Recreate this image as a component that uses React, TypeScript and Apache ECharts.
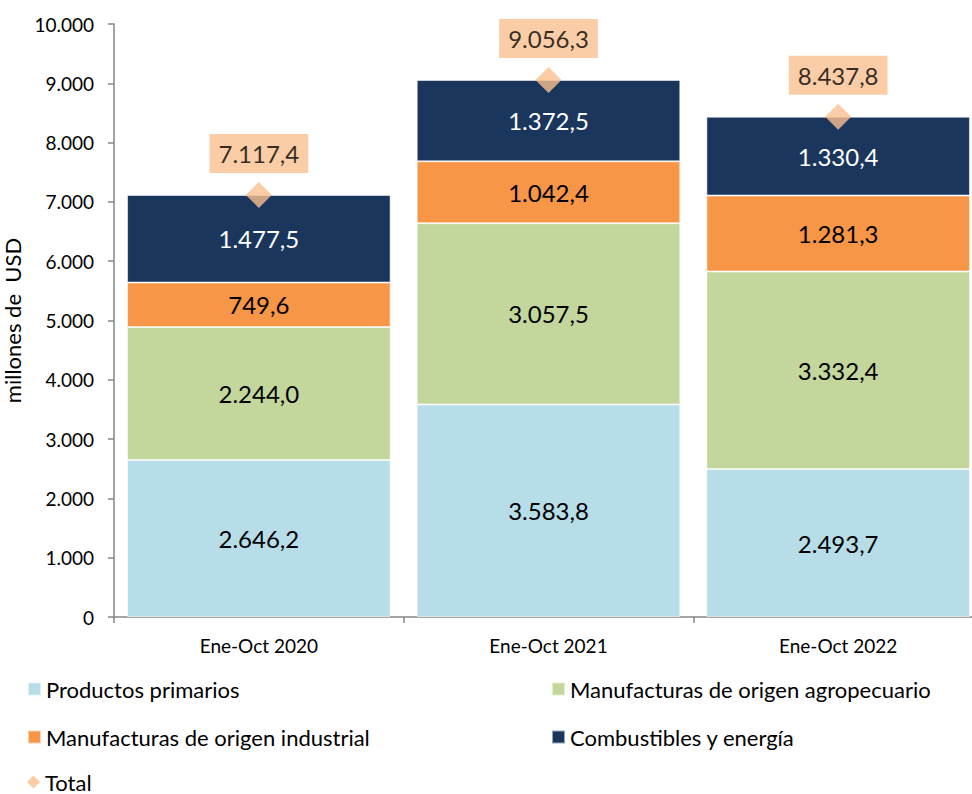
import React, { useEffect, useRef } from "react";
import * as echarts from "echarts";

const categories = ["Ene-Oct 2020", "Ene-Oct 2021", "Ene-Oct 2022"];
const primarios = [2646.2, 3583.8, 2493.7];
const agropecuario = [2244.0, 3057.5, 3332.4];
const industrial = [749.6, 1042.4, 1281.3];
const combustibles = [1477.5, 1372.5, 1330.4];
const totals = [7117.4, 9056.3, 8437.8];

const FONT = "Lato, 'Open Sans', sans-serif";

function fmtNum(v: number, dec: number): string {
  const s = v.toFixed(dec);
  const [int, frac] = s.split(".");
  const withSep = int.replace(/\B(?=(\d{3})+(?!\d))/g, ".");
  return frac !== undefined ? withSep + "," + frac : withSep;
}

function legendAt(name: string, icon: string, left: number, top: number) {
  return {
    left,
    top,
    padding: 0,
    itemWidth: 13,
    itemHeight: 13,
    itemGap: 0,
    selectedMode: false,
    textStyle: { fontSize: 22, lineHeight: 22, color: "#000", fontFamily: FONT },
    data: [{ name, icon }],
  };
}

export default function App() {
  const ref = useRef<HTMLDivElement>(null);
  useEffect(() => {
    if (!ref.current) return;
    const chart = echarts.init(ref.current, undefined, { renderer: "svg" });
    const barBase = (name: string, data: number[], color: string, labelColor: string) => ({
      name,
      type: "bar",
      stack: "total",
      data,
      barCategoryGap: "9%",
      itemStyle: { color, borderColor: "rgba(255,255,255,0.55)", borderWidth: 1 },
      label: {
        show: true,
        position: "inside",
        color: labelColor,
        fontFamily: FONT,
        fontSize: 24,
        formatter: (p: any) => fmtNum(p.value, 1),
      },
      emphasis: { disabled: true },
    });
    chart.setOption({
      animation: false,
      backgroundColor: "#ffffff",
      textStyle: { fontFamily: FONT },
      grid: { left: 114, right: 0, top: 24, bottom: 177, containLabel: false, outerBoundsMode: "none" },
      legend: [
        legendAt("Productos primarios", "rect", 27, 678),
        legendAt("Manufacturas de origen industrial", "rect", 27, 726),
        legendAt("Total", "diamond", 27, 771),
        legendAt("Manufacturas de origen agropecuario", "rect", 551, 678),
        legendAt("Combustibles y energía", "rect", 551, 726),
      ],
      xAxis: {
        type: "category",
        data: categories,
        axisLine: { lineStyle: { color: "#868686", width: 1.5 } },
        axisTick: { show: true, length: 6, lineStyle: { color: "#868686", width: 1.5 } },
        axisLabel: { color: "#000", fontSize: 19, margin: 19, fontFamily: FONT },
      },
      yAxis: {
        type: "value",
        min: 0,
        max: 10000,
        interval: 1000,
        name: "millones de  USD",
        nameLocation: "middle",
        nameGap: 73,
        nameRotate: 90,
        nameTextStyle: { color: "#000", fontSize: 22, fontFamily: FONT },
        axisLine: { show: true, lineStyle: { color: "#868686", width: 1.5 } },
        axisTick: { show: true, length: 6, lineStyle: { color: "#868686", width: 1.5 } },
        axisLabel: {
          color: "#000",
          fontSize: 19,
          margin: 20,
          fontFamily: FONT,
          formatter: (v: number) => fmtNum(v, 0),
        },
        splitLine: { show: false },
      },
      series: [
        barBase("Productos primarios", primarios, "#b7dde8", "#000"),
        barBase("Manufacturas de origen agropecuario", agropecuario, "#c3d69b", "#000"),
        barBase("Manufacturas de origen industrial", industrial, "#f79646", "#000"),
        barBase("Combustibles y energía", combustibles, "#1b365d", "#fff"),
        {
          name: "Total",
          type: "scatter",
          data: totals,
          symbol: "diamond",
          symbolSize: 26,
          itemStyle: { color: "#fac090" },
          z: 5,
          label: {
            show: true,
            position: "top",
            distance: 9,
            color: "#000",
            fontSize: 24,
            fontFamily: FONT,
            backgroundColor: "#fac090",
            padding: [8, 9, 7, 9],
            formatter: (p: any) => fmtNum(p.value, 1),
          },
          emphasis: { disabled: true },
        },
      ],
    });
    return () => chart.dispose();
  }, []);
  return (
    <div style={{ position: "fixed", left: 0, top: 0, width: 972, height: 794, overflow: "hidden" }}>
      <div ref={ref} style={{ width: 983, height: 794 }} />
    </div>
  );
}
